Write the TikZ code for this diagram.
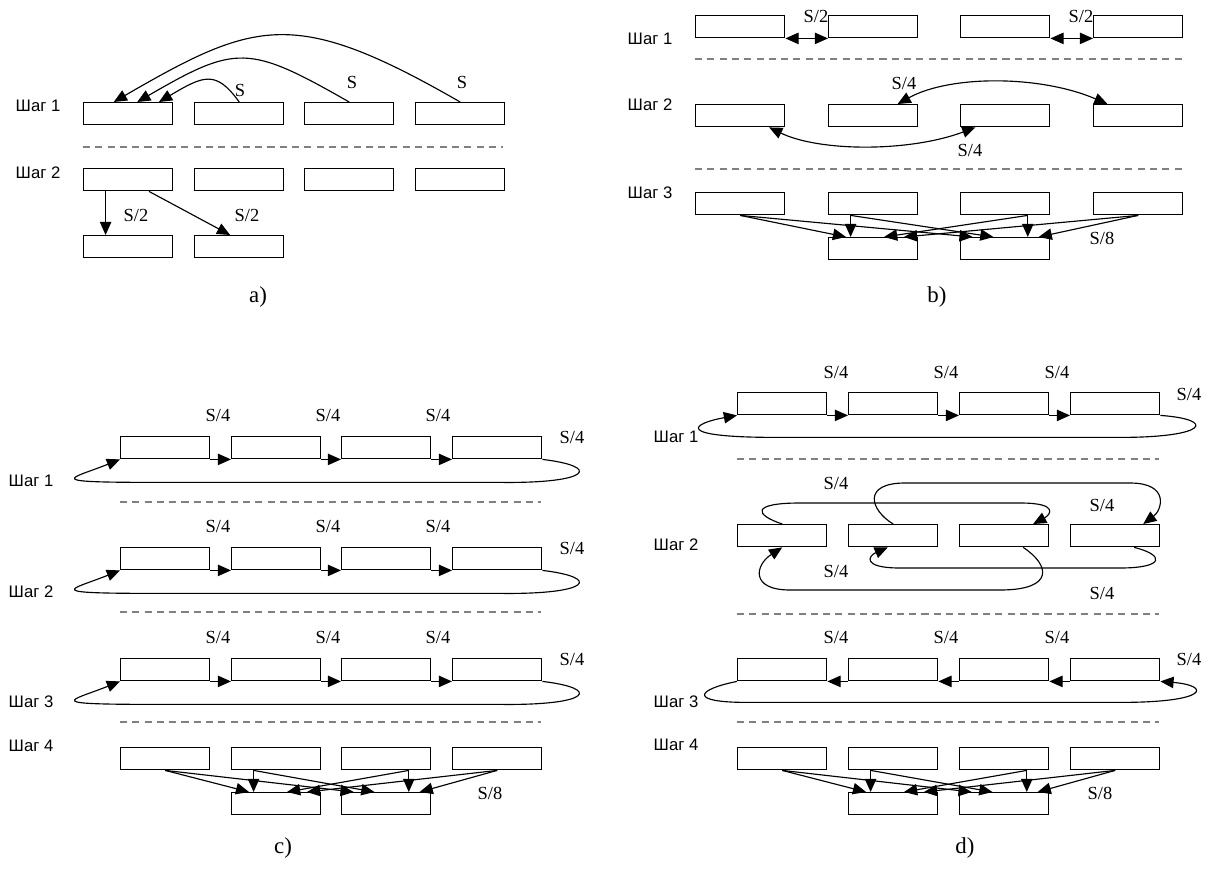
\documentclass[tikz,border=0pt]{standalone}
\usepackage{fontspec}
\setmainfont{Liberation Serif}
\newfontfamily\levelfont{Liberation Sans}
\usetikzlibrary{arrows.meta,calc}

\begin{document}
\begin{tikzpicture}[
  x=0.02cm, y=-0.02cm,
  blk/.style={draw, line width=0.8pt, minimum width=1.78cm, minimum height=0.44cm,
              inner sep=0pt, anchor=north west},
  arr/.style={-{Triangle[length=7.5pt,width=6.5pt]}, line width=0.65pt},
  dbl/.style={{Triangle[length=7.5pt,width=6.5pt]}-{Triangle[length=7.5pt,width=6.5pt]}, line width=0.65pt},
  sep/.style={draw=gray, line width=1.1pt, dash pattern=on 4pt off 3pt},
  lvl/.style={font=\levelfont\fontsize{9.5}{11}\selectfont},
  rate/.style={font=\fontsize{10.5}{12}\selectfont, inner sep=0pt},
  pcap/.style={font=\fontsize{13}{15}\selectfont},
]
\useasboundingbox (0,0) rectangle (1214,869);

% a)
\foreach \r/\y in {1/102,2/168}
  \foreach \i/\x in {1/83,2/194,3/304,4/415}
    \node[blk] (a\r\i) at (\x,\y) {};
\node[blk] (a31) at (83,235) {};
\node[blk] (a32) at (194,235) {};

% b)
\foreach \r/\y in {1/15,2/104,3/192}
  \foreach \i/\x in {1/695,2/828,3/960,4/1093}
    \node[blk] (b\r\i) at (\x,\y) {};
\node[blk] (b41) at (828,237) {};
\node[blk] (b42) at (960,237) {};

% c)
\foreach \r/\y in {1/436,2/547,3/658,4/747}
  \foreach \i/\x in {1/120,2/231,3/341,4/452}
    \node[blk] (c\r\i) at (\x,\y) {};
\node[blk] (c51) at (231,792) {};
\node[blk] (c52) at (341,792) {};

% d)
\foreach \r/\y in {1/392,2/524,3/658,4/747}
  \foreach \i/\x in {1/737,2/848,3/959,4/1070}
    \node[blk] (d\r\i) at (\x,\y) {};
\node[blk] (d51) at (848,792) {};
\node[blk] (d52) at (959,792) {};

% level names
\foreach \n/\x/\y/\t in {a1/38/106/1, a2/38/173/2,
    b1/650/39/1, b2/650/105/2, b3/650/193/3,
    c1/31/481/1, c2/31/592/2, c3/31/702/3, c4/31/746/4,
    d1/676/437/1, d2/676/545/2, d3/676/702/3, d4/676/745/4}
  \node[lvl] (lv\n) at (\x,\y) {Шаг \t};

% separators
\draw[sep] (83,147) -- (503,147);
\draw[sep] (695,59) -- (1182,59);
\draw[sep] (695,169) -- (1182,169);
\foreach \y in {502,612,722}
  \draw[sep] (120,\y) -- (541,\y);
\foreach \y in {459,614,722}
  \draw[sep] (737,\y) -- (1159,\y);

% a) transfers
\draw[arr] (a12.north) .. controls (215.7,69.2) and (203,76) .. ($(a11.north west)!.84!(a11.north east)$);
\draw[arr] (a13.north) .. controls (248.5,44.5) and (236.4,44.5) .. ($(a11.north west)!.6!(a11.north east)$);
\draw[arr] (a14.north) .. controls (295,7) and (256,19.5) .. ($(a11.north west)!.34!(a11.north east)$);
\draw[arr] ($(a21.south west)!.25!(a21.south east)$) -- ($(a31.north west)!.25!(a31.north east)$);
\draw[arr] ($(a21.south west)!.73!(a21.south east)$) -- ($(a32.north west)!.4!(a32.north east)$);
\node[rate] (sa1) at (240,90) {S};
\node[rate] (sa2) at (352,82) {S};
\node[rate] (sa3) at (462,82) {S};
\node[rate] (sa4) at (136,215) {S/2};
\node[rate] (sa5) at (247,215) {S/2};

% b) transfers
\draw[dbl] (b11.south east) -- (b12.south west);
\draw[dbl] (b13.south east) -- (b14.south west);
\draw[dbl] ($(b22.north west)!.77!(b22.north east)$) .. controls (950,75) and (1040,75)
  .. ($(b24.north west)!.16!(b24.north east)$);
\draw[dbl] ($(b21.south west)!.82!(b21.south east)$) .. controls (820,152) and (910,152)
  .. ($(b23.south west)!.17!(b23.south east)$);
\node[rate] (sb1) at (816,16) {S/2};
\node[rate] (sb2) at (1081,16) {S/2};
\node[rate] (sb3) at (904,83) {S/4};
\node[rate] (sb4) at (970,150) {S/4};
\node[rate] (sb5) at (1102,238) {S/8};

% gather to the two lower blocks
\foreach \p/\u/\l in {b/3/4, c/4/5, d/4/5}
  \foreach \s/\sf/\t/\tf in {1/.5/1/.2, 1/.5/2/.14, 2/.25/1/.25, 2/.25/2/.37,
                             3/.75/1/.62, 3/.75/2/.75, 4/.5/1/.84, 4/.5/2/.87}
    \draw[arr] ($(\p\u\s.south west)!\sf!(\p\u\s.south east)$)
      -- ($(\p\l\t.north west)!\tf!(\p\l\t.north east)$);

% c) rings
\foreach \r/\y in {1/415,2/526,3/637} {
  \foreach \i/\j in {1/2,2/3,3/4}
    \draw[arr] (c\r\i.south east) -- (c\r\j.south west);
  \draw[arr] (c\r4.south east)
    .. controls ($(c\r4.south east)+(59,7)$) and ($(c\r4.south east)+(49,24)$)
    .. ($(c\r4.south east)+(-41,23)$) -- ($(c\r1.south west)+(40,23)$)
    .. controls ($(c\r1.south west)+(-80,23)$) and ($(c\r1.south west)+(-50,20)$)
    .. (c\r1.south west);
  \foreach \x in {218,328,438}
    \node[rate] (sc\r\x) at (\x,\y) {S/4};
  \node[rate] (sc\r) at (572,\y+22) {S/4};
}
\node[rate] (sc8) at (490,793) {S/8};

% d) ring, step 1
\foreach \i/\j in {1/2,2/3,3/4}
  \draw[arr] (d1\i.south east) -- (d1\j.south west);
\draw[arr] (d14.south east)
  .. controls ($(d14.south east)+(56,4)$) and ($(d14.south east)+(48,22)$)
  .. ($(d14.south east)+(-40,22)$) -- ($(d11.south west)+(40,22)$)
  .. controls ($(d11.south west)+(-65,22)$) and ($(d11.south west)+(-45,8)$)
  .. (d11.south west);

% d) step 2
\draw[arr] (d21.north) .. controls (755,515) and (750,503) .. (800,503) -- (1020,503)
  .. controls (1060,503) and (1050,515) .. ($(d23.north west)!.82!(d23.north east)$);
\draw[arr] (d22.north) .. controls (870,510) and (862,483) .. (905,483) -- (1130,483)
  .. controls (1170,483) and (1162,510) .. ($(d24.north west)!.81!(d24.north east)$);
\draw[arr] ($(d24.south west)!.71!(d24.south east)$) .. controls (1165,555) and (1165,568)
  .. (1120,568) -- (900,568) .. controls (862,568) and (868,556)
  .. ($(d22.south west)!.44!(d22.south east)$);
\draw[arr] ($(d23.south west)!.71!(d23.south east)$) .. controls (1050,565) and (1055,590)
  .. (1000,590) -- (790,590) .. controls (750,590) and (755,565) .. (d21.south);

% d) ring, step 3
\foreach \i/\j in {1/2,2/3,3/4}
  \draw[arr] (d3\j.south west) -- (d3\i.south east);
\draw[arr] (d31.south west)
  .. controls ($(d31.south west)+(-40,8)$) and ($(d31.south west)+(-50,21)$)
  .. ($(d31.south west)+(10,21)$) -- ($(d34.south east)+(-40,21)$)
  .. controls ($(d34.south east)+(50,21)$) and ($(d34.south east)+(50,4)$)
  .. (d34.south east);

\foreach \r/\y in {1/372,3/637} {
  \foreach \x in {836,946,1057}
    \node[rate] (sd\r\x) at (\x,\y) {S/4};
  \node[rate] (sd\r) at (1189,\y+22) {S/4};
}
\node[rate] (sd21) at (836,483) {S/4};
\node[rate] (sd22) at (1102,505) {S/4};
\node[rate] (sd23) at (836,571) {S/4};
\node[rate] (sd24) at (1102,593) {S/4};
\node[rate] (sd8) at (1100,793) {S/8};

% captions
\node[pcap] (capa) at (258,297) {a)};
\node[pcap] (capb) at (937,297) {b)};
\node[pcap] (capc) at (283,848) {c)};
\node[pcap] (capd) at (965,848) {d)};

\end{tikzpicture}
\end{document}
